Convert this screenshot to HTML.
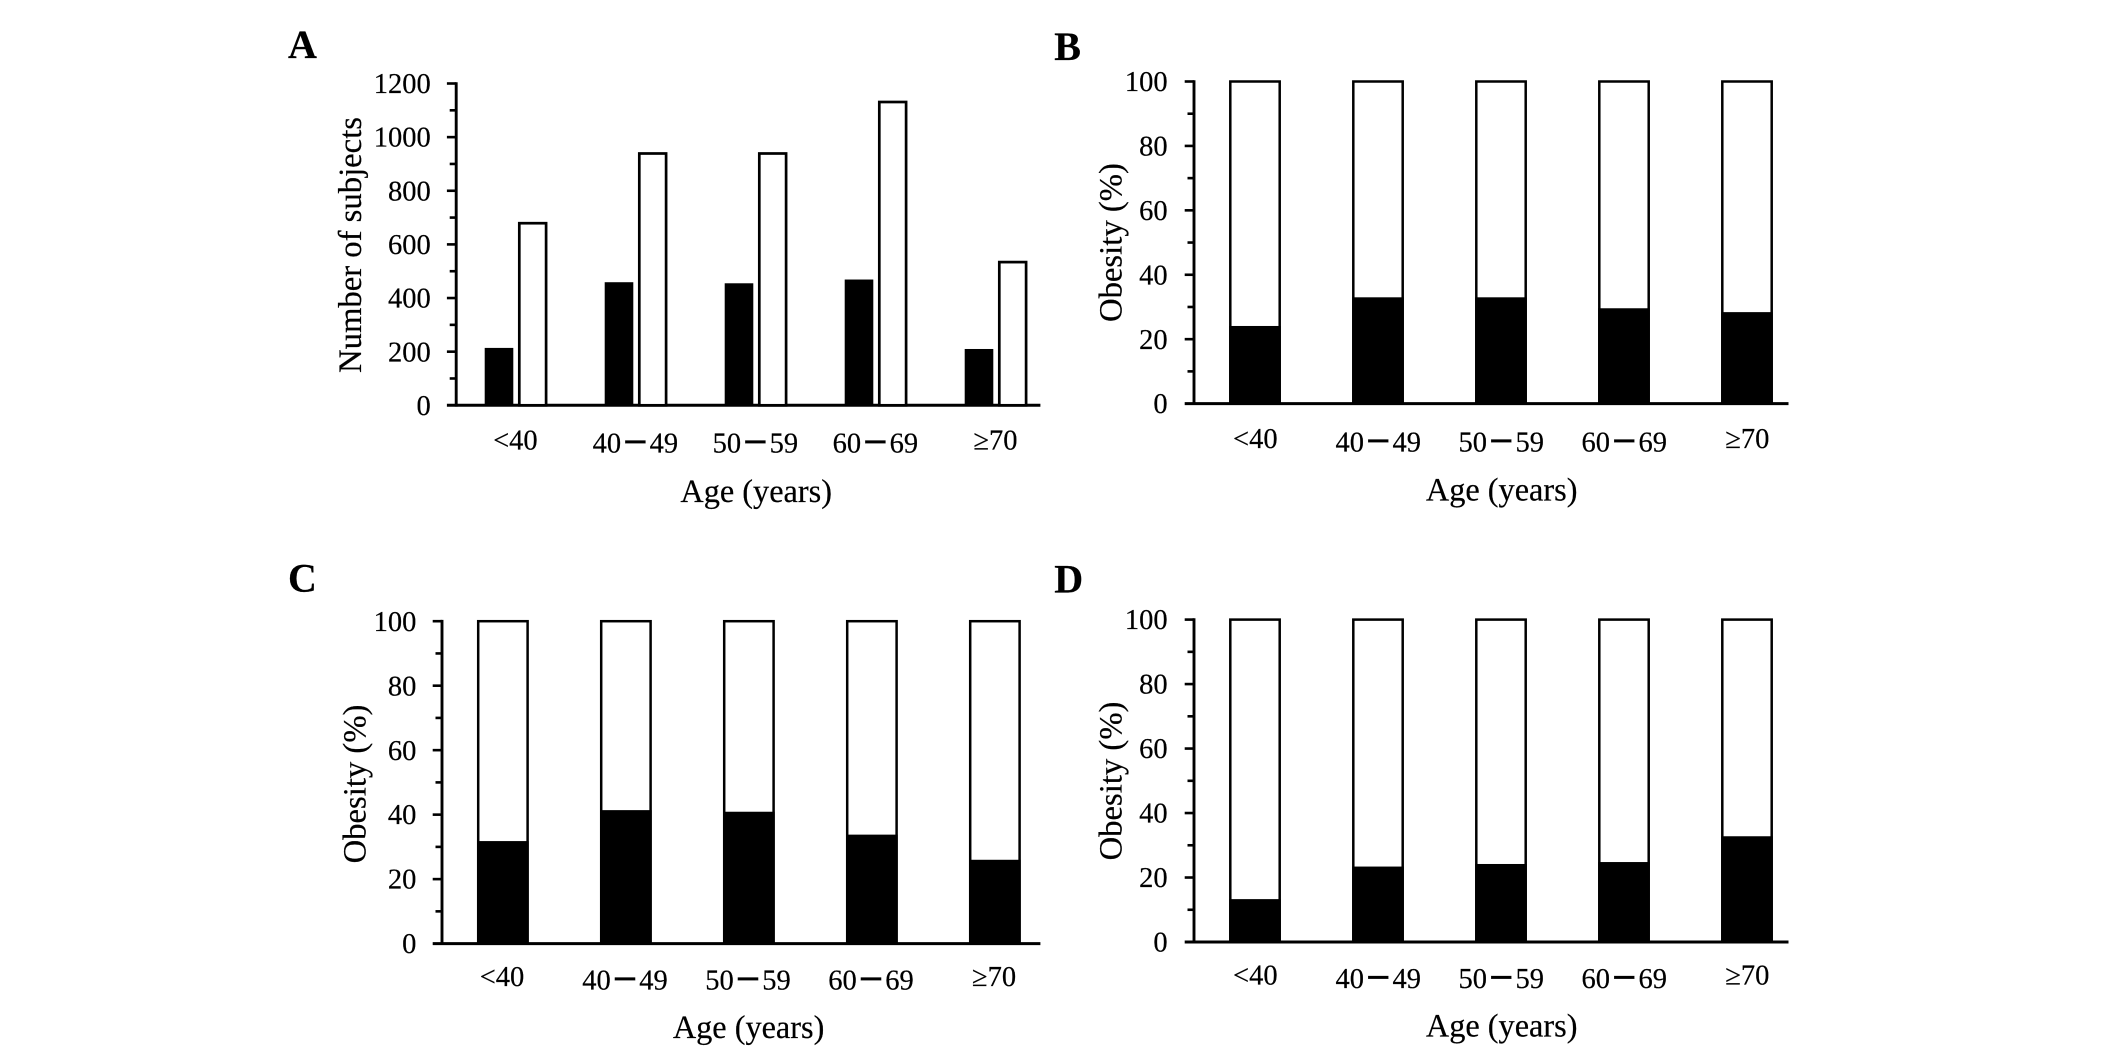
<!DOCTYPE html>
<html lang="en">
<head>
<meta charset="utf-8">
<title>Obesity by age group</title>
<style>
html,body{margin:0;padding:0;background:#fff;width:2126px;height:1056px;overflow:hidden}
svg{display:block}
text{font-family:"Liberation Serif","Noto Sans CJK SC",serif;fill:#000;stroke:#000;stroke-width:.2}
</style>
</head>
<body>
<svg id="figure" xmlns="http://www.w3.org/2000/svg" width="2126" height="1056" viewBox="0 0 2126 1056"></svg>
<script>
const categories = ['<40', '40－49', '50－59', '60－69', '≥70'];
const countTicks = [0, 200, 400, 600, 800, 1000, 1200];
const percentTicks = [0, 20, 40, 60, 80, 100];
const subjectsFilled = [214, 459, 455, 469, 210];
const subjectsOpen = [679, 939, 939, 1131, 534];
const obesityB = [24.1, 33, 33, 29.6, 28.4];
const obesityC = [31.8, 41.4, 40.9, 33.8, 26];
const obesityD = [13.3, 23.4, 24.2, 24.8, 32.8];

const svg = document.getElementById('figure');
const NS = 'http://www.w3.org/2000/svg';

function make(parent, tag, attrs, text) {
  const el = document.createElementNS(NS, tag);
  for (const k in attrs) el.setAttribute(k, attrs[k]);
  if (text !== undefined) el.textContent = text;
  parent.appendChild(el);
  return el;
}
function axisLine(parent, x1, y1, x2, y2, w) {
  const el = make(parent, 'line', {x1: x1, y1: y1, x2: x2, y2: y2, stroke: '#000', 'stroke-width': w});
  return el;
}

function drawFrame(g, p, ticks) {
  const maxV = ticks[ticks.length - 1];
  const y = v => p.y0 + (p.yTop - p.y0) * v / maxV;

  const yAxis = axisLine(g, p.axisX, y(maxV) - 1.3, p.axisX, p.y0 + 1.3, 2.9);
  
  
  const xAxis = axisLine(g, p.axisX - 9.3, p.y0, p.xEnd, p.y0, 3);
  
  

  ticks.forEach((t, i) => {
    if (i > 0) {
      const major = axisLine(g, p.axisX - 9.3, y(t), p.axisX, y(t), 2.6);
      
      
    }
    if (i < ticks.length - 1) {
      const mid = (t + ticks[i + 1]) / 2;
      const minor = axisLine(g, p.axisX - 6.5, y(mid), p.axisX, y(mid), 2.6);
      
      
    }
    const lab = make(g, 'text', {x: p.tickRight, y: y(t) + 9.6, 'text-anchor': 'end', 'font-size': 28.5}, String(t));
    
    
  });

  categories.forEach((c, i) => {
    const isRange = c.indexOf('－') > 0;
    const lab = make(g, 'text', {
      x: p.labelX + p.step * i,
      y: isRange ? p.rangeBase : p.edgeBase,
      'text-anchor': 'middle',
      'font-size': 28.5
    });
    
    
    if (isRange) {
      const parts = c.split('－');
      make(lab, 'tspan', {}, parts[0]);
      make(lab, 'tspan', {'font-weight': 'bold'}, '－');
      make(lab, 'tspan', {}, parts[1]);
    } else {
      lab.textContent = c;
    }
  });

  const xt = make(g, 'text', {x: p.titleX, y: p.titleBase, 'text-anchor': 'middle', 'font-size': 32.3}, 'Age (years)');
  
  

  const yt = make(g, 'text', {
    x: 0, y: 0, 'text-anchor': 'middle', 'font-size': 32.7,
    transform: 'translate(' + p.yTitleX + ' ' + p.yTitleY + ') rotate(-90)'
  }, p.yTitle);
  
  

  const letter = make(g, 'text', {x: p.letterX, y: p.letterBase, 'font-size': 40, 'font-weight': 'bold'}, p.letter);
  
  
  return y;
}

function drawGrouped(p, ticks, filled, open) {
  const g = make(svg, 'g', {});
  
  
  const y = drawFrame(g, p, ticks);
  categories.forEach((c, i) => {
    const left = p.barStart + p.step * i;
    const a = make(g, 'rect', {x: left, y: y(filled[i]), width: 28.6, height: p.y0 - y(filled[i]), fill: '#000'});
    
    
    const b = make(g, 'rect', {x: left + 34.6, y: y(open[i]), width: 26.8, height: p.y0 - y(open[i]), fill: '#fff', stroke: '#000', 'stroke-width': 2.7});
    
    
  });
}

function drawStacked(p, ticks, values) {
  const g = make(svg, 'g', {});
  
  
  const y = drawFrame(g, p, ticks);
  const top = ticks[ticks.length - 1];
  categories.forEach((c, i) => {
    const cx = p.barCenter + p.step * i;
    const o = make(g, 'rect', {x: cx - 24.7, y: y(top), width: 49.4, height: p.y0 - y(top), fill: '#fff', stroke: '#000', 'stroke-width': 2.5});
    
    
    const f = make(g, 'rect', {x: cx - 25.8, y: y(values[i]), width: 51.6, height: p.y0 - y(values[i]), fill: '#000'});
    
    
  });
}

drawGrouped({
  letter: 'A', letterX: 288, letterBase: 58,
  axisX: 456.2, xEnd: 1040.4, y0: 405.3, yTop: 83.5, tickRight: 430.7,
  step: 120, barStart: 484.7, labelX: 515.4, edgeBase: 449.4, rangeBase: 452.3,
  titleX: 756.2, titleBase: 502, yTitle: 'Number of subjects', yTitleX: 360.8, yTitleY: 245
}, countTicks, subjectsFilled, subjectsOpen);

drawStacked({
  letter: 'B', letterX: 1054.3, letterBase: 60,
  axisX: 1194, xEnd: 1788.5, y0: 403.6, yTop: 81.5, tickRight: 1167.6,
  step: 123, barCenter: 1255, labelX: 1255.3, edgeBase: 448, rangeBase: 451.3,
  titleX: 1501.7, titleBase: 500.3, yTitle: 'Obesity (%)', yTitleX: 1121.6, yTitleY: 242.6
}, percentTicks, obesityB);

drawStacked({
  letter: 'C', letterX: 288, letterBase: 591.4,
  axisX: 442, xEnd: 1040.4, y0: 943.6, yTop: 621.2, tickRight: 416.4,
  step: 123, barCenter: 502.9, labelX: 502, edgeBase: 986, rangeBase: 989.6,
  titleX: 748.6, titleBase: 1038, yTitle: 'Obesity (%)', yTitleX: 365.4, yTitleY: 784
}, percentTicks, obesityC);

drawStacked({
  letter: 'D', letterX: 1054.3, letterBase: 592.7,
  axisX: 1194, xEnd: 1788.5, y0: 942, yTop: 619.6, tickRight: 1167.6,
  step: 123, barCenter: 1255, labelX: 1255.3, edgeBase: 984.5, rangeBase: 988,
  titleX: 1501.7, titleBase: 1036.5, yTitle: 'Obesity (%)', yTitleX: 1121.6, yTitleY: 781
}, percentTicks, obesityD);
</script>
</body>
</html>
